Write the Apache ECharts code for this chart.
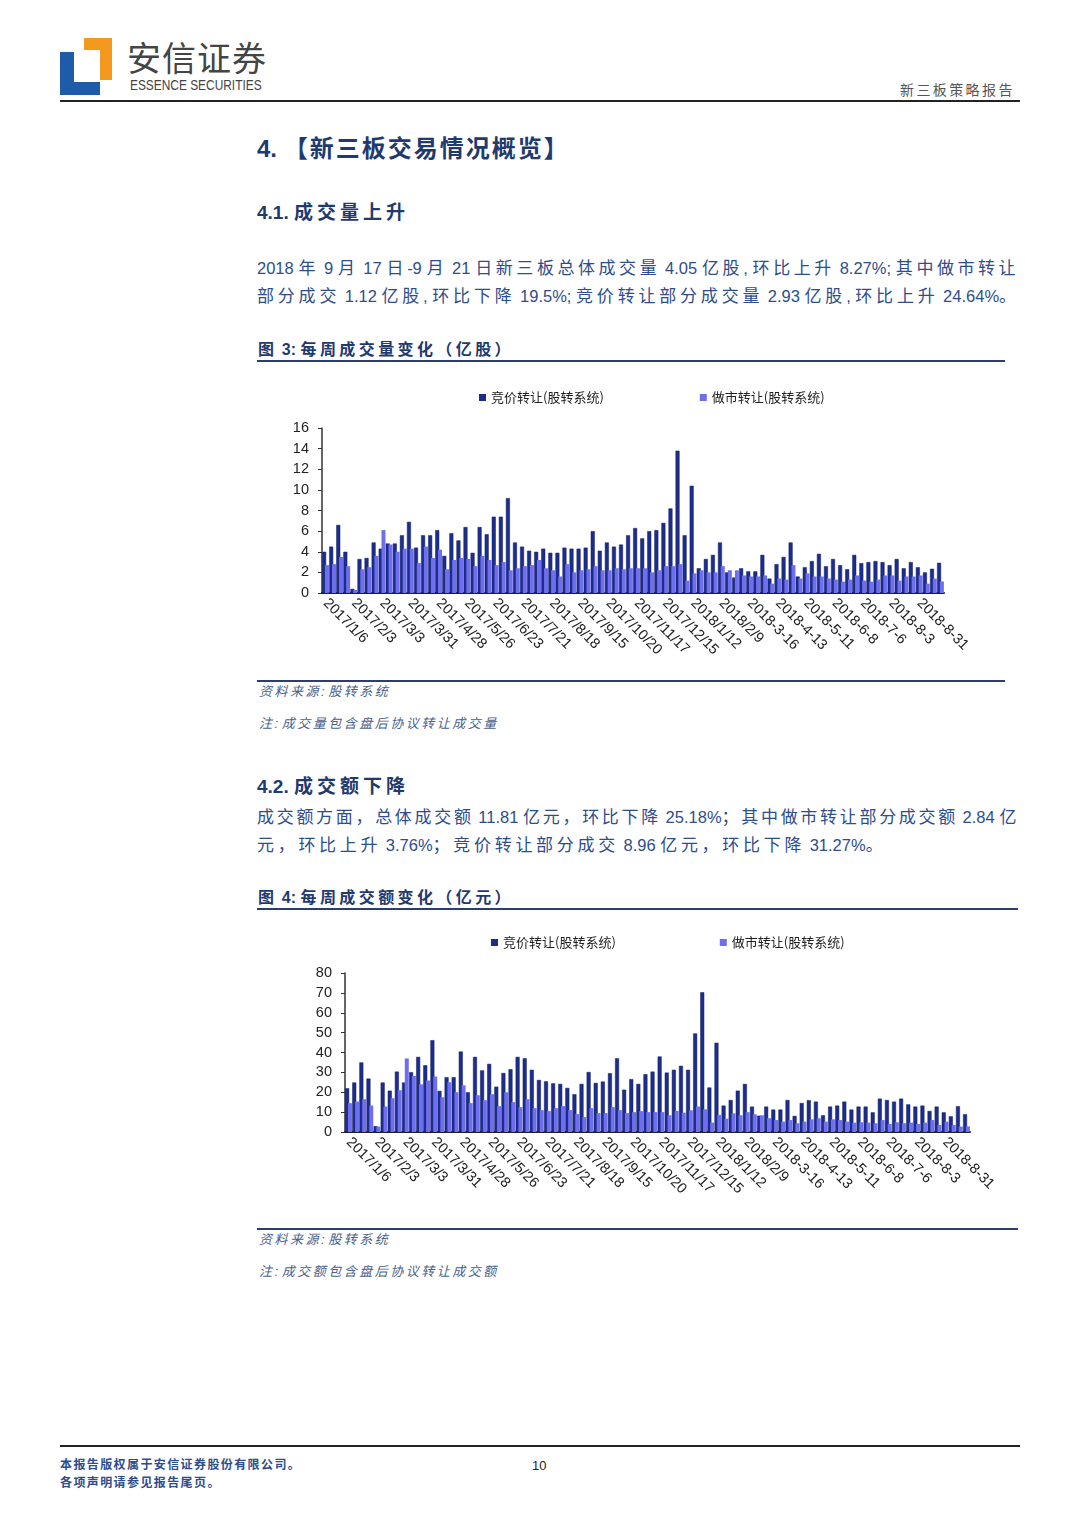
<!DOCTYPE html>
<html><head><meta charset="utf-8">
<script src="https://cdn.jsdelivr.net/npm/echarts@6/dist/echarts.min.js"></script>
<style>
html,body{margin:0;padding:0;background:#fff;}
#page{position:relative;width:1080px;height:1527px;background:#fff;overflow:hidden;font-family:"Noto Sans CJK SC","Liberation Sans",sans-serif;}
.abs{position:absolute;}
.lat{letter-spacing:0;font-family:"Liberation Sans",sans-serif;}
.h1{left:257px;top:131px;font-size:24px;line-height:32px;font-weight:bold;color:#1F3A6E;letter-spacing:2px;}
.h1 .lat{font-size:24px;}
.h2{font-size:19px;line-height:26px;font-weight:bold;color:#1F3A6E;left:257px;letter-spacing:4px;}
.para{left:257px;width:762px;font-size:17px;line-height:22px;color:#2E4D8C;text-align:justify;text-align-last:justify;letter-spacing:3.3px;}
.para .lat{font-size:16.5px;}
.cap{left:258px;font-size:16px;line-height:22px;font-weight:bold;color:#1F3A6E;letter-spacing:3.4px;}
.rule{background:#2B3F6A;height:2px;}
.note{left:259px;font-size:13px;line-height:18px;font-style:italic;color:#4A5F8A;letter-spacing:2.5px;}
</style></head><body>
<div id="page">
  <!-- logo -->
  <div class="abs" style="left:84px;top:38px;width:28px;height:12px;background:#F39A1E;"></div>
  <div class="abs" style="left:100px;top:38px;width:12px;height:42px;background:#F39A1E;"></div>
  <div class="abs" style="left:60px;top:52px;width:14px;height:43px;background:#1E5BA8;"></div>
  <div class="abs" style="left:60px;top:82px;width:40px;height:13px;background:#1E5BA8;"></div>
  <div class="abs" style="left:127px;top:39px;font-size:34px;line-height:36px;color:#444;letter-spacing:1px;">安信证券</div>
  <div class="abs" style="left:130px;top:78px;font-size:14px;line-height:15px;color:#444;font-family:'Liberation Sans';transform:scaleX(0.85);transform-origin:left top;">ESSENCE SECURITIES</div>
  <div class="abs" style="left:900px;top:80px;font-size:14px;line-height:18px;color:#555;letter-spacing:2.4px;">新三板策略报告</div>
  <div class="abs" style="left:60px;top:100px;width:960px;height:2px;background:#222;"></div>

  <div class="abs h1 mix">4. 【新三板交易情况概览】</div>
  <div class="abs h2 mix" style="top:198px;">4.1. 成交量上升</div>
  <div class="abs para mix" style="top:256px;">2018 年 9 月 17 日-9 月 21 日新三板总体成交量 4.05 亿股, 环比上升 8.27%; 其中做市转让</div>
  <div class="abs para mix" style="top:284px;text-align-last:left;white-space:nowrap;letter-spacing:3.8px;">部分成交 1.12 亿股, 环比下降 19.5%; 竞价转让部分成交量 2.93 亿股, 环比上升 24.64%。</div>
  <div class="abs cap mix" style="top:337px;">图 3: 每周成交量变化（亿股）</div>
  <div class="abs rule" style="left:257px;top:360px;width:748px;"></div>
  <div id="c1" class="abs" style="left:257px;top:375px;width:750px;height:305px;"></div>
  <div class="abs rule" style="left:257px;top:680px;width:748px;height:1.5px;"></div>
  <div class="abs note mix" style="top:682px;">资料来源: 股转系统</div>
  <div class="abs note mix" style="top:714px;">注: 成交量包含盘后协议转让成交量</div>

  <div class="abs h2 mix" style="top:772px;">4.2. 成交额下降</div>
  <div class="abs para mix" style="top:805px;letter-spacing:2.6px;">成交额方面，总体成交额 11.81 亿元，环比下降 25.18%；其中做市转让部分成交额 2.84 亿</div>
  <div class="abs para mix" style="top:833px;text-align-last:left;white-space:nowrap;letter-spacing:3.7px;">元，环比上升 3.76%；竞价转让部分成交 8.96 亿元，环比下降 31.27%。</div>
  <div class="abs cap mix" style="top:885px;">图 4: 每周成交额变化（亿元）</div>
  <div class="abs rule" style="left:257px;top:908px;width:761px;"></div>
  <div id="c2" class="abs" style="left:257px;top:925px;width:763px;height:303px;"></div>
  <div class="abs rule" style="left:257px;top:1228px;width:761px;height:1.5px;"></div>
  <div class="abs note mix" style="top:1230px;">资料来源: 股转系统</div>
  <div class="abs note mix" style="top:1262px;">注: 成交额包含盘后协议转让成交额</div>

  <div class="abs" style="left:60px;top:1445px;width:960px;height:2px;background:#222;"></div>
  <div class="abs" style="left:60px;top:1455px;font-size:12px;font-weight:bold;color:#2E4D8C;line-height:18px;letter-spacing:1.4px;">本报告版权属于安信证券股份有限公司。<br>各项声明请参见报告尾页。</div>
  <div class="abs" style="left:532px;top:1458px;font-size:13px;color:#222;font-family:'Liberation Sans';">10</div>
</div>
<script>
document.querySelectorAll('.mix').forEach(function(el){
  el.innerHTML = el.textContent.replace(/([\x20-\x7E]+)/g,'<span class="lat">$1</span>');
});

const dates = ["2017/1/6","2017/1/13","2017/1/20","2017/1/26","2017/2/3","2017/2/10","2017/2/17","2017/2/24","2017/3/3","2017/3/10","2017/3/17","2017/3/24","2017/3/31","2017/4/7","2017/4/14","2017/4/21","2017/4/28","2017/5/5","2017/5/12","2017/5/19","2017/5/26","2017/6/2","2017/6/9","2017/6/16","2017/6/23","2017/6/30","2017/7/7","2017/7/14","2017/7/21","2017/7/28","2017/8/4","2017/8/11","2017/8/18","2017/8/25","2017/9/1","2017/9/8","2017/9/15","2017/9/22","2017/9/29","2017/10/13","2017/10/20","2017/10/27","2017/11/3","2017/11/10","2017/11/17","2017/11/24","2017/12/1","2017/12/8","2017/12/15","2017/12/22","2017/12/29","2018/1/5","2018/1/12","2018/1/19","2018/1/26","2018/2/2","2018/2/9","2018-2-23","2018-3-2","2018-3-9","2018-3-16","2018-3-23","2018-3-30","2018-4-4","2018-4-13","2018-4-20","2018-4-27","2018-5-4","2018-5-11","2018-5-18","2018-5-25","2018-6-1","2018-6-8","2018-6-15","2018-6-22","2018-6-29","2018-7-6","2018-7-13","2018-7-20","2018-7-27","2018-8-3","2018-8-10","2018-8-17","2018-8-24","2018-8-31","2018-9-7","2018-9-14","2018-9-21"];

const volBid = [4.0,4.5,6.6,4.0,0.4,3.3,3.4,4.9,4.3,4.8,4.8,5.6,6.9,4.4,5.6,5.6,6.1,3.6,5.8,5.1,6.4,3.9,6.4,5.7,7.4,7.4,9.2,4.9,4.5,4.1,4.0,4.3,3.9,3.9,4.4,4.3,4.3,4.4,6.0,4.1,4.9,4.5,4.7,5.6,6.3,5.3,6.0,6.1,6.8,8.2,13.8,5.6,10.4,2.4,3.3,3.7,4.9,2.0,1.5,2.4,2.1,2.1,3.7,1.4,2.8,3.5,4.9,1.6,2.5,3.1,3.8,2.6,3.3,2.7,2.3,3.7,2.9,3.0,3.1,3.0,2.7,3.3,2.4,3.0,2.5,2.0,2.35,2.93];
const volMM = [2.7,2.8,3.5,2.6,0.3,2.3,2.5,3.6,6.1,4.7,4.0,4.3,4.3,2.9,4.5,3.4,4.2,2.3,3.2,3.4,3.3,2.6,3.6,3.2,2.7,3.0,2.2,2.4,2.6,2.7,3.2,2.4,2.2,1.6,2.8,2.0,2.2,2.3,2.6,2.2,2.2,2.4,2.3,2.4,2.4,2.4,2.0,2.2,2.6,2.6,2.8,1.2,1.9,2.2,2.0,2.0,2.6,2.2,2.2,1.7,1.6,1.6,1.7,0.9,1.4,1.3,2.7,1.4,1.9,1.6,1.6,1.4,1.3,1.1,1.3,1.7,1.2,1.1,1.3,1.7,1.7,1.2,1.6,1.6,1.7,0.9,1.39,1.12];

const amtBid = [22.0,24.9,35.0,26.9,3.0,24.9,20.8,30.4,24.9,30.1,37.8,33.6,46.2,20.7,27.6,27.6,40.5,20.0,37.8,31.0,34.3,22.8,29.7,31.6,37.8,37.1,31.3,26.2,25.5,24.5,24.2,22.2,19.0,24.2,30.2,24.7,25.4,29.6,37.1,21.3,26.6,24.2,29.1,30.4,38.0,29.9,31.3,33.3,31.3,49.6,70.3,22.4,44.9,13.3,16.1,20.8,24.2,12.8,8.2,12.8,11.3,11.3,16.1,8.1,14.6,16.0,15.3,8.4,12.8,13.3,15.3,11.3,12.8,12.8,9.9,16.8,16.1,15.3,16.8,13.9,12.8,13.3,10.6,12.8,9.9,7.9,13.0,8.96];
const amtMM = [14.5,15.3,16.5,13.3,2.7,12.8,17.0,21.0,37.0,28.2,24.0,25.9,27.9,17.5,25.0,20.0,23.5,14.5,18.5,16.0,19.0,13.0,20.0,15.0,12.5,16.5,12.0,11.0,10.5,12.0,13.0,11.0,9.0,7.5,12.0,9.5,9.5,12.5,11.0,9.5,10.0,10.5,10.0,10.0,10.0,8.4,10.6,9.7,10.9,12.8,11.4,4.7,8.6,6.7,9.4,8.4,10.0,8.9,8.4,6.9,6.0,5.2,6.0,4.4,5.2,6.4,6.9,5.2,6.4,6.0,5.2,4.7,4.9,4.7,4.4,6.0,4.0,4.9,4.4,4.7,4.0,4.7,6.0,3.5,5.2,3.5,2.74,2.84];

const seriesNames = ["竞价转让(股转系统)","做市转让(股转系统)"];
const yTicks1 = {min:0,max:16,interval:2};
const yTicks2 = {min:0,max:80,interval:10};

function makeOption(bid, mm, yt, grid, legendLeft, legendTop, legendGap){
  return {
    animation:false,
    legend:{left:legendLeft, top:legendTop, itemGap:legendGap, itemWidth:7, itemHeight:7, icon:'rect',
      textStyle:{fontSize:13, color:'#222', fontFamily:'Noto Sans CJK SC'}, itemStyle:{borderWidth:0}},
    grid:grid,
    xAxis:{type:'category', data:dates, boundaryGap:true,
      axisLine:{lineStyle:{color:'#222', width:2}},
      axisTick:{show:false},
      axisLabel:{interval:3, rotate:-45, fontSize:14.5, color:'#222', fontFamily:'Liberation Sans', margin:8}},
    yAxis:{type:'value', min:yt.min, max:yt.max, interval:yt.interval,
      axisLine:{show:true, lineStyle:{color:'#333', width:1.5}},
      axisTick:{show:true, length:4, lineStyle:{color:'#333'}},
      splitLine:{show:false},
      axisLabel:{fontSize:14.5, color:'#222', fontFamily:'Liberation Sans', margin:13}},
    series:[
      {name:seriesNames[0], type:'bar', data:bid, barWidth:4, barGap:'-30%',
        itemStyle:{color:'#1C2D8A', borderColor:'#15206A', borderWidth:0.5}},
      {name:seriesNames[1], type:'bar', data:mm, barWidth:4,
        itemStyle:{color:'#6E6EEE'}}
    ]
  };
}
const c1 = echarts.init(document.getElementById('c1'));
c1.setOption(makeOption(volBid, volMM, yTicks1, {left:65, top:53, width:622, height:165}, 217, 11, 96));
const c2 = echarts.init(document.getElementById('c2'));
c2.setOption(makeOption(amtBid, amtMM, yTicks2, {left:88, top:48, width:625, height:159}, 229, 6, 104));
</script>
</body></html>
